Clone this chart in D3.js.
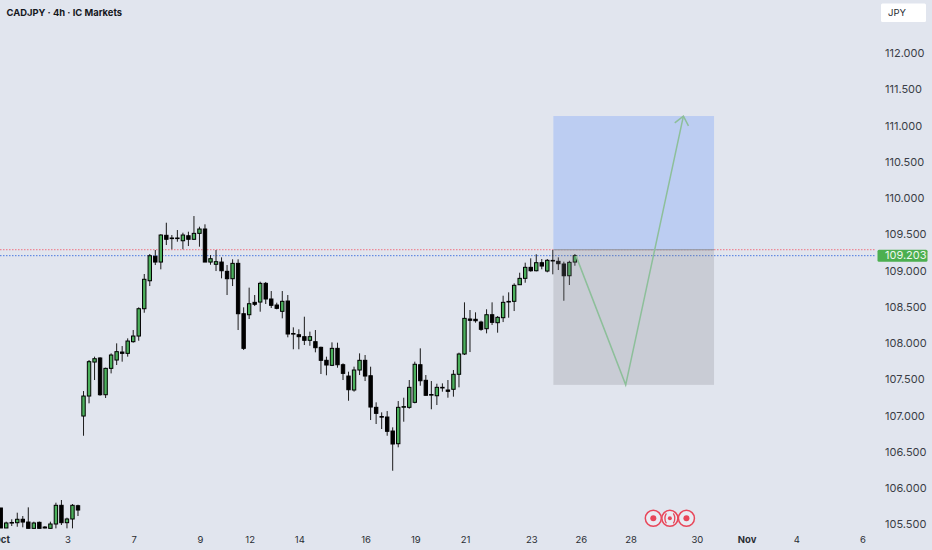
<!DOCTYPE html>
<html><head><meta charset="utf-8">
<script src="https://cdn.jsdelivr.net/npm/d3@7"></script>
<style>html,body{margin:0;padding:0;background:#e1e5ee;overflow:hidden}svg{display:block}text{font-family:Inter,"Noto Sans",sans-serif}</style>
</head><body><div id="chart"></div>
<script>
const title = "CADJPY · 4h · IC Markets";
const currency = "JPY";
const lastPrice = 109.203;
const redLevel = 109.285;
const opens = [105.721,105.445,105.514,105.518,105.565,105.527,105.440,105.523,105.445,105.440,105.500,105.758,105.518,105.569,105.752,106.990,107.266,107.735,107.791,107.284,107.648,107.763,107.873,107.855,108.016,108.094,108.471,108.857,109.194,109.115,109.484,109.447,109.440,109.409,109.478,109.429,109.511,109.571,109.115,109.084,109.115,108.987,108.885,109.097,108.402,108.388,108.559,108.563,108.821,108.605,108.522,108.435,108.577,108.129,108.112,108.085,108.035,108.016,107.938,107.759,107.690,107.924,107.698,107.542,107.349,107.625,107.759,107.546,107.110,106.983,106.976,106.783,106.608,107.114,107.110,107.179,107.698,107.483,107.287,107.270,107.383,107.349,107.359,107.566,107.846,108.329,108.325,108.287,108.195,108.388,108.278,108.347,108.572,108.573,108.802,108.890,109.042,108.995,109.106,108.991,109.133,109.125,109.088,108.926,109.115];
const highs = [105.721,105.532,105.565,105.656,105.610,105.730,105.532,105.534,105.472,105.532,105.794,105.831,105.587,105.776,105.766,107.335,107.763,107.809,107.800,107.657,107.855,107.993,107.956,108.062,108.177,108.490,108.950,109.226,109.281,109.498,109.658,109.488,109.557,109.520,109.534,109.750,109.603,109.636,109.212,109.281,109.180,109.074,109.153,109.153,108.490,108.761,108.660,108.844,108.840,108.715,108.554,108.715,108.660,108.214,108.187,108.361,108.154,108.177,107.947,107.809,108.007,108.002,107.717,107.602,107.671,107.855,107.832,107.671,107.179,107.041,107.059,106.834,107.197,107.243,107.487,107.740,107.924,107.556,107.473,107.436,107.441,107.487,107.625,107.864,108.559,108.453,108.421,108.305,108.463,108.559,108.370,108.650,108.697,108.821,108.968,109.106,109.166,109.222,109.157,109.157,109.281,109.180,109.120,109.133,109.226];
const lows = [105.445,105.445,105.472,105.462,105.454,105.440,105.440,105.440,105.440,105.440,105.440,105.486,105.440,105.440,105.610,106.718,107.165,107.487,107.270,107.239,107.579,107.694,107.740,107.809,108.002,108.029,108.416,108.784,109.074,109.015,109.350,109.291,109.396,109.291,109.336,109.419,109.327,109.115,109.078,108.991,108.890,108.660,108.784,108.177,107.901,108.329,108.508,108.430,108.536,108.481,108.463,108.338,108.076,107.911,107.911,107.970,107.960,107.869,107.570,107.552,107.680,107.657,107.487,107.201,107.326,107.556,107.473,106.935,106.880,106.811,106.718,106.235,106.558,106.912,107.091,107.165,107.408,107.272,107.083,107.142,107.326,107.243,107.257,107.386,107.832,107.873,108.278,108.167,108.131,108.246,108.140,108.287,108.347,108.439,108.798,108.830,108.982,108.987,109.015,108.973,108.946,109.005,108.581,108.798,109.064];
const closes = [105.445,105.514,105.521,105.565,105.527,105.440,105.514,105.440,105.458,105.500,105.758,105.518,105.569,105.758,105.693,107.266,107.740,107.781,107.284,107.648,107.832,107.878,107.855,108.025,108.094,108.471,108.877,109.202,109.115,109.488,109.429,109.440,109.447,109.488,109.429,109.511,109.571,109.115,109.161,109.120,108.995,108.885,109.097,108.402,107.924,108.540,108.532,108.821,108.605,108.518,108.476,108.573,108.122,108.122,108.085,108.035,108.085,107.933,107.759,107.694,107.924,107.698,107.579,107.353,107.625,107.759,107.542,107.114,107.027,106.976,106.779,106.604,107.110,107.120,107.386,107.704,107.477,107.276,107.284,107.386,107.386,107.331,107.566,107.846,108.338,108.311,108.305,108.187,108.388,108.283,108.352,108.559,108.565,108.794,108.890,109.042,108.995,109.106,109.060,109.139,109.138,109.092,108.926,109.111,109.203];
const priceTicks = [112,111.5,111,110.5,110,109.5,109,108.5,108,107.5,107,106.5,106,105.5];
const timeTickBars = [0,12,24,36,45,54,66,75,84,96,105,114,126,135,144,156];
const timeTickLabels = ["Oct","3","7","9","12","14","16","19","21","23","26","28","30","Nov","4","6"];
const boldTimeLabels = ["Oct","Nov"];
const boxBars = [100.1,129.2];
const boxPrices = [111.13,109.285,107.42];
const pathBars = [104.2,113.2,123.65];
const pathPrices = [109.2,107.42,111.13];
const eventBars = [118.2,121.2,124.2];

const W=932,H=550;
const x=d3.scaleLinear().domain([0,156]).range([0.7,862]);
const y=d3.scaleLinear().domain([105.5,112]).range([524,53]);
const svg=d3.select("#chart").append("svg").attr("width",W).attr("height",H);
svg.append("rect").attr("width",W).attr("height",H).attr("fill","#e1e5ee");
const defs=svg.append("defs");
defs.append("filter").attr("id","soft").append("feGaussianBlur").attr("stdDeviation",0.3);

// levels
const levelEnd=876;
svg.append("line").attr("x1",0).attr("x2",levelEnd).attr("y1",y(redLevel)).attr("y2",y(redLevel))
  .attr("stroke","#f0707f").attr("stroke-width",1).attr("stroke-dasharray","1.5 1.5");
svg.append("line").attr("x1",0).attr("x2",levelEnd).attr("y1",y(lastPrice)).attr("y2",y(lastPrice))
  .attr("stroke","#4a78e0").attr("stroke-width",1).attr("stroke-dasharray","1.5 1.5");

// candles
const candles=d3.range(opens.length).map(i=>({i,o:opens[i],h:highs[i],l:lows[i],c:closes[i]}));
const cg=svg.append("g").attr("filter","url(#soft)");
const sel=cg.selectAll("g").data(candles).join("g");
sel.append("line").attr("x1",d=>x(d.i)).attr("x2",d=>x(d.i)).attr("y1",d=>y(d.h)).attr("y2",d=>y(d.l))
  .attr("stroke","#1c1c1c").attr("stroke-width",1);
sel.append("rect").attr("x",d=>x(d.i)-1.7).attr("width",3.4)
  .attr("y",d=>y(Math.max(d.o,d.c)))
  .attr("height",d=>Math.max(0.6,Math.abs(y(d.o)-y(d.c))))
  .attr("fill",d=>d.c>=d.o?"#4cb05c":"#000").attr("stroke","#000").attr("stroke-width",1);

// position boxes
svg.append("rect").attr("x",x(boxBars[0])).attr("width",x(boxBars[1])-x(boxBars[0]))
  .attr("y",y(boxPrices[0])).attr("height",y(boxPrices[1])-y(boxPrices[0])).attr("fill","#bccdf2");
svg.append("rect").attr("x",x(boxBars[0])).attr("width",x(boxBars[1])-x(boxBars[0]))
  .attr("y",y(boxPrices[1])).attr("height",y(boxPrices[2])-y(boxPrices[1])).attr("fill","#7c7f86").attr("fill-opacity",0.24);
svg.append("line").attr("x1",x(boxBars[0])).attr("x2",x(boxBars[1])).attr("y1",y(boxPrices[1])).attr("y2",y(boxPrices[1]))
  .attr("stroke","#8e9198").attr("stroke-width",1.2);

// projected path
const pts=pathBars.map((b,i)=>[x(b),y(pathPrices[i])]);
svg.append("path").attr("d",d3.line()(pts)).attr("fill","none").attr("stroke","#8dbf9a").attr("stroke-width",1.5);
const tip=pts[2],prev=pts[1];
const ang=Math.atan2(tip[1]-prev[1],tip[0]-prev[0]);
const len=11;
const head=[ang+2.45,ang-2.45].map(a=>[tip[0]+len*Math.cos(a),tip[1]+len*Math.sin(a)]);
svg.append("path").attr("d",d3.line()([head[0],tip,head[1]])).attr("fill","none").attr("stroke","#8dbf9a").attr("stroke-width",1.5);

// right axis
const yAxis=d3.axisRight(y).tickValues(priceTicks).tickSize(0).tickPadding(0).tickFormat(d3.format(".3f"));
const gy=svg.append("g").attr("transform","translate(885,0)").call(yAxis);
gy.select(".domain").remove();
gy.selectAll("text").attr("fill","#3a3e46").style("font-size","11px").style("font-family","Inter,sans-serif").attr("dy","0.34em");

// bottom axis
const gx=svg.append("g").attr("transform","translate(1,540)");
gx.selectAll("text").data(timeTickBars).join("text").attr("x",d=>x(d)).attr("y",0)
  .attr("dy","0.34em").attr("text-anchor","middle").attr("fill","#2a2d33")
  .style("font-size","9.5px")
  .style("font-weight",(d,i)=>boldTimeLabels.includes(timeTickLabels[i])?700:400)
  .text((d,i)=>timeTickLabels[i]);

// title
svg.append("text").attr("x",6.5).attr("y",13).attr("dy","0.34em").attr("fill","#15171c")
  .style("font-size","9.4px").style("font-weight",700).text(title);

// currency box
svg.append("rect").attr("x",881).attr("y",3.5).attr("width",45).attr("height",18.5).attr("rx",1.5).attr("fill","#fff");
svg.append("text").attr("x",888).attr("y",13).attr("dy","0.34em").attr("fill","#2a2d33").style("font-size","9.5px").text(currency);

// last price tag
svg.append("rect").attr("x",877.5).attr("y",y(lastPrice)-6).attr("width",50).attr("height",12).attr("rx",1.5).attr("fill","#4caf50");
svg.append("text").attr("x",885).attr("y",y(lastPrice)).attr("dy","0.34em").attr("fill","#eef7ee").style("font-size","11px").text(d3.format(".3f")(lastPrice));

// events
const ev=svg.append("g").selectAll("g").data(eventBars).join("g").attr("transform",d=>`translate(${x(d)},518.3)`);
ev.append("circle").attr("r",8).attr("fill","#e9ecf3").attr("stroke","#e8475a").attr("stroke-width",1.5);
ev.append("circle").attr("r",(d,i)=>i===1?2:3).attr("fill","#e8475a");
ev.filter((d,i)=>i===1).selectAll("path").data([-1,1]).join("path")
  .attr("d",s=>`M${s*3.5},-5Q${s*6.5},0 ${s*3.5},5`).attr("fill","none").attr("stroke","#e8475a").attr("stroke-width",1.3);
</script></body></html>
